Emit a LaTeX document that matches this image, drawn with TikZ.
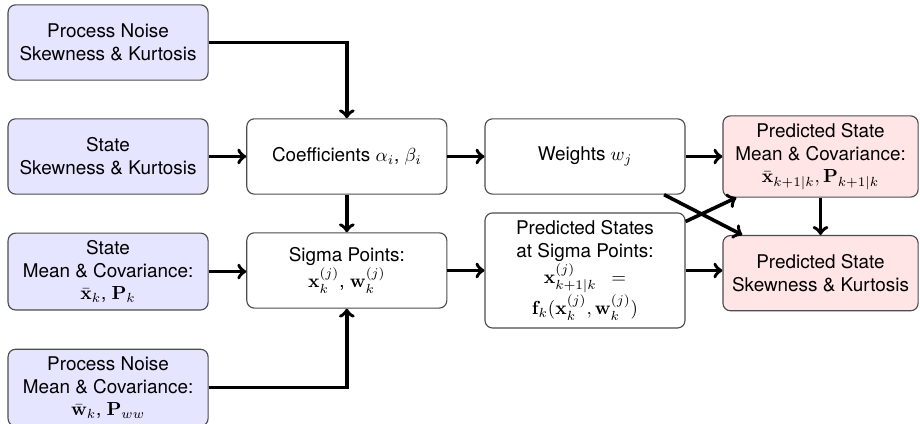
\documentclass[tikz,border=0pt]{standalone}
\usepackage{amsmath}
\usepackage{amssymb}
\usepackage[no-math]{fontspec}
\setmainfont{TeX Gyre Heros}
\usepackage{xcolor}
\usetikzlibrary{arrows,calc,positioning}
\tikzset{%
	input/.style   = {draw=black!70, line width=0.6pt, fill=blue!10, rounded corners, minimum width=3.72cm, minimum height=1.4cm, text centered, align=center},
	process/.style = {draw=black!70, line width=0.6pt, fill=white, rounded corners, minimum width=3.72cm, minimum height=1.4cm, text centered, align=center},
	output/.style  = {draw=black!70, line width=0.6pt, fill=red!10, rounded corners, minimum width=3.63cm, minimum height=1.4cm, text centered, align=center},
	arrow/.style   = {line width=1.9pt, ->},
}
\begin{document}
\begin{tikzpicture}
		\useasboundingbox (0,0) rectangle (17.11,-7.87);
		% inputs
		\node[input] (psk) at (2.01,-0.79) {Process Noise\\Skewness \& Kurtosis};
		\node[input] (ssk) at (2.01,-2.91) {State\\Skewness \& Kurtosis};
		\node[input, minimum height=1.43cm] (smc) at (2.01,-5.05) {State\\Mean \& Covariance:\\$\bar{\mathbf{x}}_k$, $\mathbf{P}_k$};
		\node[input, minimum height=1.43cm] (pmc) at (2.01,-7.21) {Process Noise\\Mean \& Covariance:\\$\bar{\mathbf{w}}_k$, $\mathbf{P}_{ww}$};
		% processing
		\node[process] (coef) at (6.45,-2.91) {Coefficients $\alpha_i$, $\beta_i$};
		\node[process] (sig) at (6.45,-5.03) {Sigma Points:\\$\mathbf{x}_k^{(j)}$, $\mathbf{w}_k^{(j)}$};
		\node[process] (wts) at (10.88,-2.91) {Weights $w_j$};
		\node[process, minimum height=2.14cm] (pst) at (10.88,-5.03) {Predicted States\\at Sigma Points:\\$\mathbf{x}_{k+1|k}^{(j)}\enspace=$\\$\mathbf{f}_k(\mathbf{x}_k^{(j)}, \mathbf{w}_k^{(j)})$};
		% outputs
		\node[output, minimum height=1.51cm] (pmean) at (15.26,-2.91) {Predicted State\\Mean \& Covariance:\\$\bar{\mathbf{x}}_{k+1|k}, \mathbf{P}_{k+1|k}$};
		\node[output] (pskew) at (15.26,-5.08) {Predicted State\\Skewness \& Kurtosis};
		% connectors
		\draw[arrow] (psk.east) -| (coef.north);
		\draw[arrow] (ssk.east) -- (coef.west);
		\draw[arrow] (smc.east) -- (smc.east -| sig.west);
		\draw[arrow] (pmc.east) -| (sig.south);
		\draw[arrow] (coef.south) -- (sig.north);
		\draw[arrow] (coef.east) -- (wts.west);
		\draw[arrow] (sig.east) -- (pst.west);
		\draw[arrow] (wts.east) -- (pmean.west);
		\draw[arrow] (pst.east) -- (pst.east -| pskew.west);
		\draw[arrow] ($(wts.south east)+(-0.4,0)$) -- ($(pskew.north west)+(0.37,0)$);
		\draw[arrow] ($(pst.north east)+(0,-0.17)$) -- ($(pmean.south west)+(0.26,0)$);
		\draw[arrow] (pmean.south -| pskew.north) -- (pskew.north);
\end{tikzpicture}
\end{document}
